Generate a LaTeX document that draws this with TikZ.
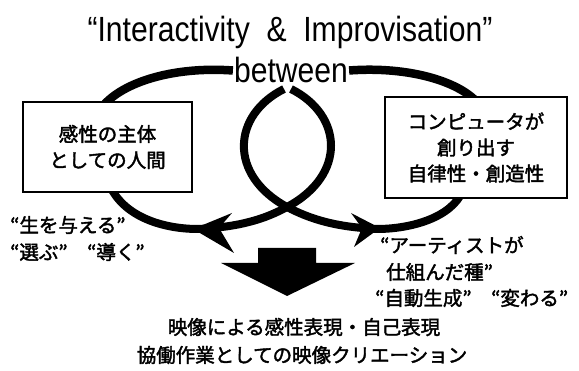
\documentclass[tikz,border=0pt]{standalone}
\usepackage{graphicx}
\usepackage{fontspec}
\setmainfont{Liberation Sans}
\newfontfamily\jp[FakeBold=2]{Noto Sans CJK JP}
\pgfdeclarelayer{bg}
\pgfsetlayers{bg,main}
\tikzset{
  loopline/.style={line width=8pt},
  toparc/.style={line width=8.5pt},
  labelbox/.style={draw, line width=1.4pt, fill=white, align=center, inner sep=0pt,
    font=\jp\fontsize{19.5}{26}\selectfont},
  jptext/.style={font=\jp\fontsize{19.5}{25}\selectfont, inner sep=0pt},
  headtext/.style={font=\fontsize{35}{40}\selectfont, inner sep=1pt},
  headfill/.style={fill=black, draw=none}
}
\begin{document}
\begin{tikzpicture}[x=1pt,y=-1pt]
\useasboundingbox (0,0) rectangle (579,371);
% title and "between"
\node[headtext, anchor=base] (title) at (290,42) {\scalebox{0.86}[1]{“Interactivity\ \ \&\ \ Improvisation”}};
\node[headtext, anchor=base] (between) at (291,83) {\scalebox{0.86}[1]{between}};
% boxes
\node[labelbox, minimum width=169pt, minimum height=90pt] (boxL) at (107.5,147) {感性の主体\\としての人間};
\node[labelbox, minimum width=182pt, minimum height=101pt] (boxR) at (476,147.5) {コンピュータが\\創り出す\\自律性・創造性};
% loop coordinates
\coordinate (cross) at (287,207);
\coordinate (topL) at (284,89);
\coordinate (topR) at (291,89);
\coordinate (tipL) at (198,229);
\coordinate (tipR) at (377,229);
\coordinate (startL) at (110,186);
\coordinate (startR) at (463,190);
\begin{pgfonlayer}{bg}
  \draw[toparc] (between.west) .. controls (170,66) and (118,84) .. ([xshift=-7pt,yshift=-8pt]boxL.north);
  \draw[toparc] (between.east) .. controls (410,66) and (460,82) .. ([xshift=2pt,yshift=-7pt]boxR.north);
  \draw[loopline] (startL) .. controls (125,218) and (165,229) .. (tipL)
     .. controls (240,227) and (265,219) .. (cross)
     .. controls (347,175) and (343,115) .. (topR);
  \draw[loopline] (startR) .. controls (452,218) and (410,229) .. (tipR)
     .. controls (335,227) and (310,219) .. (cross)
     .. controls (228,175) and (232,115) .. (topL);
\end{pgfonlayer}
% arrowheads
\fill[headfill] (193,229) -- (232,213) -- (219,228) -- (234,253) -- cycle;
\fill[headfill] (380,228) -- (351,213) -- (362,228) -- (354,247) -- cycle;
% block arrow
\fill[headfill] (258,248) -- (316,248) -- (316,263) -- (355,263) -- (287,296) -- (221,263) -- (258,263) -- cycle;
% labels
\node[jptext, anchor=west] (qL1) at (10,225) {“生を与える”};
\node[jptext, anchor=west] (qL2) at (10,252) {“選ぶ”\hspace{1em}“導く”};
\node[jptext, anchor=west] (qR1) at (380,245) {“アーティストが};
\node[jptext, anchor=west] (qR2) at (386,272) {仕組んだ種”};
\node[jptext, anchor=west] (qR3) at (375,298) {“自動生成”\hspace{1em}“変わる”};
\node[jptext] (bot1) at (304,327) {映像による感性表現・自己表現};
\node[jptext] (bot2) at (302,355) {協働作業としての映像クリエーション};
\end{tikzpicture}
\end{document}
